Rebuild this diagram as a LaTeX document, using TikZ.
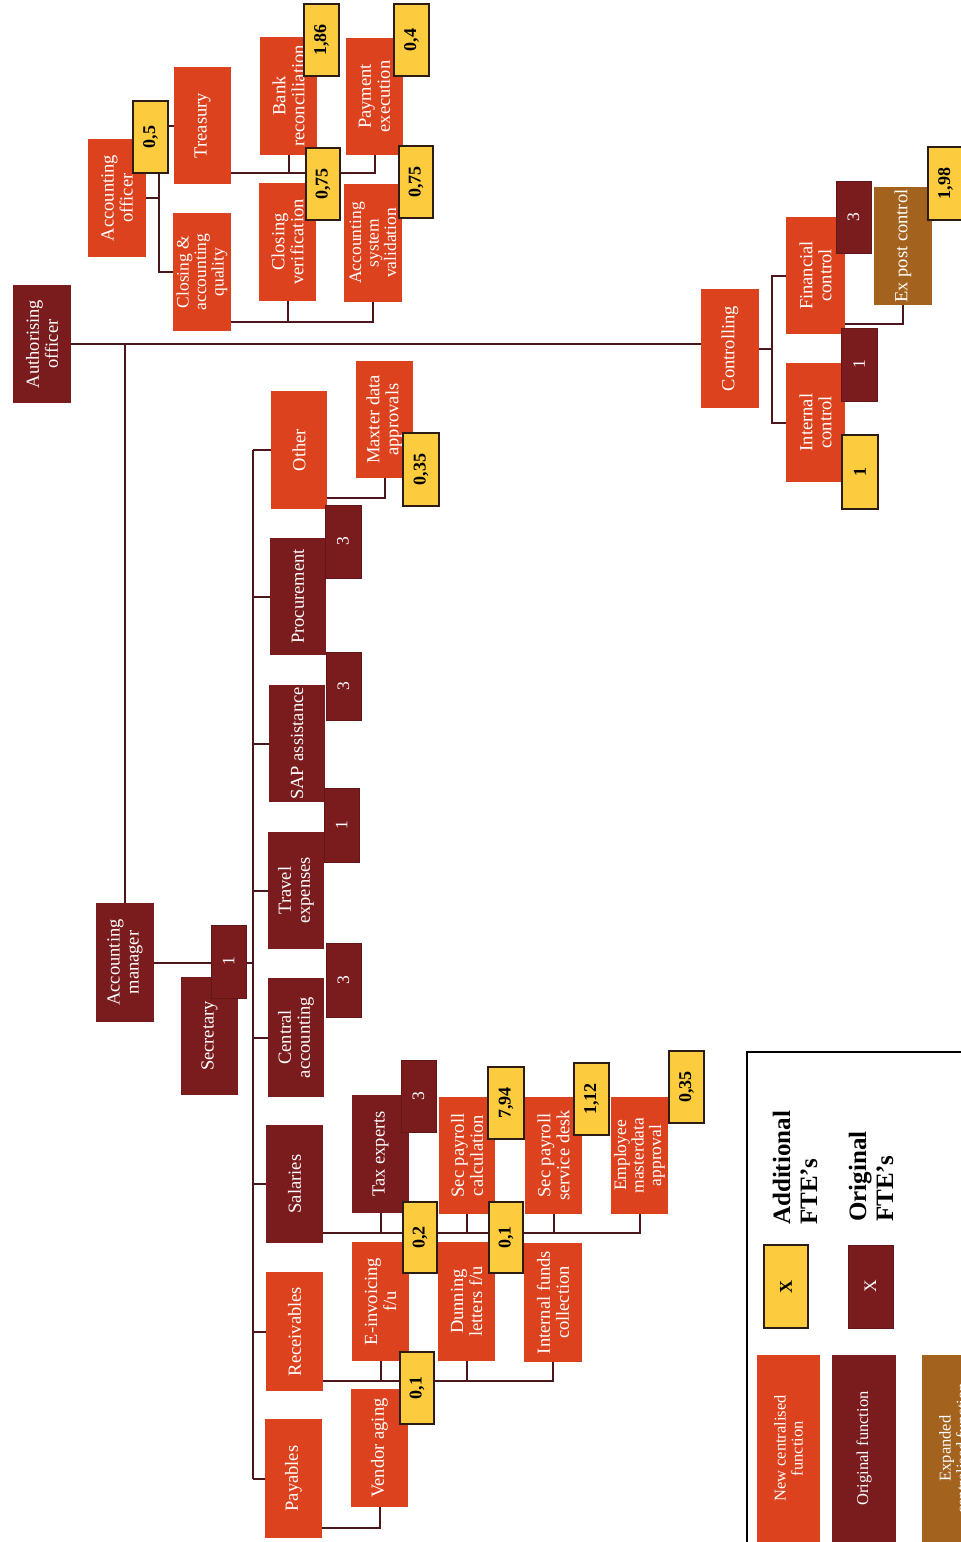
\documentclass[tikz,border=0pt]{standalone}
\usepackage{fontspec}
\setmainfont{Liberation Serif}
\definecolor{orng}{RGB}{221,66,30}
\definecolor{dred}{RGB}{122,28,30}
\definecolor{ylw}{RGB}{252,204,62}
\definecolor{brwn}{RGB}{163,99,30}
\definecolor{lnc}{RGB}{75,22,28}
\definecolor{bdr}{RGB}{45,28,22}
\tikzset{
 base/.style={rotate=90, inner sep=0pt, outer sep=0pt, align=center, text=white, font=\fontsize{18.5}{19}\selectfont},
 ob/.style={base, fill=orng},
 db/.style={base, fill=dred},
 bb/.style={base, fill=brwn},
 small/.style={font=\fontsize{17.5}{17.5}\selectfont},
 yb/.style={rotate=90, inner sep=0pt, outer sep=0pt, fill=ylw, draw=bdr, line width=1.6pt, text=black, font=\bfseries\fontsize{18}{18}\selectfont},
 rb/.style={rotate=90, inner sep=0pt, outer sep=0pt, fill=dred, draw=dred!80!black, line width=0.6pt, text=white, font=\fontsize{17.5}{17.5}\selectfont},
 conn/.style={draw=lnc, line width=2pt},
 legtxt/.style={rotate=90, anchor=west, align=left, inner sep=0pt, text=black, font=\bfseries\fontsize{25}{27}\selectfont},
 legbox/.style={font=\fontsize{16.5}{17}\selectfont},
}
\newcommand\bx[7]{\node[#2, minimum width={#6-#4}, minimum height={#5-#3}] (#1) at ({(#3+#5)/2},{(#4+#6)/2}) {#7};}
\begin{document}
\begin{tikzpicture}[x=1pt,y=-1pt]
\useasboundingbox (0,0) rectangle (961,1542);
\clip (0,0) rectangle (961,1542);
\fill[white] (0,0) rectangle (961,1542);
% ---- boxes
\bx{ao}{db}{13}{285}{71}{403}{Authorising\\officer}
\bx{acco}{ob}{88}{139}{146}{257}{Accounting\\officer}
\bx{treas}{ob}{174}{67}{231}{184}{Treasury}
\bx{cqual}{ob,small}{173}{213}{231}{331}{Closing \&\\accounting\\quality}
\bx{bank}{ob}{260}{37}{317}{155}{Bank\\reconciliation}
\bx{pay}{ob}{346}{38}{403}{155}{Payment\\execution}
\bx{cver}{ob}{259}{183}{316}{301}{Closing\\verification}
\bx{asv}{ob,small}{344}{184}{402}{302}{Accounting\\system\\validation}
\bx{ctrl}{ob}{701}{289}{759}{408}{Controlling}
\bx{finc}{ob}{786}{217}{845}{334}{Financial\\control}
\bx{intc}{ob}{786}{363}{845}{482}{Internal\\control}
\bx{expost}{bb}{874}{187}{932}{305}{Ex post control}
\bx{other}{ob}{271}{391}{327}{509}{Other}
\bx{maxter}{ob}{356}{361}{413}{478}{Maxter data\\approvals}
\bx{proc}{db}{270}{538}{326}{655}{Procurement}
\bx{sap}{db}{269}{685}{325}{802}{SAP assistance}
\bx{trav}{db}{268}{832}{324}{949}{Travel\\expenses}
\bx{cent}{db}{268}{978}{324}{1097}{Central\\accounting}
\bx{am}{db}{96}{903}{154}{1022}{Accounting\\manager}
\bx{secr}{db}{181}{977}{238}{1095}{Secretary}
\bx{sal}{db}{266}{1125}{323}{1243}{Salaries}
\bx{rec}{ob}{266}{1272}{323}{1391}{Receivables}
\bx{pay2}{ob}{265}{1419}{322}{1538}{Payables}
\bx{tax}{db}{352}{1095}{409}{1213}{Tax experts}
\bx{spc}{ob}{439}{1097}{495}{1214}{Sec payroll\\calculation}
\bx{spsd}{ob}{525}{1097}{582}{1214}{Sec payroll\\service desk}
\bx{ema}{ob,small}{611}{1097}{668}{1214}{Employee\\masterdata\\approval}
\bx{einv}{ob}{352}{1242}{409}{1361}{E-invoicing\\f/u}
\bx{dun}{ob}{438}{1242}{495}{1361}{Dunning\\letters f/u}
\bx{ifc}{ob}{524}{1243}{582}{1362}{Internal funds\\collection}
\bx{vend}{ob}{351}{1389}{408}{1507}{Vendor aging}
% ---- connectors
\draw[conn] (ao.south) -- (ao.south -| ctrl.north);
\draw[conn] (am.east) -- (am.east |- ao.south);
\draw[conn] (am.south) -- (am.south -| 253,0);
\draw[conn] (253,0 |- other.north) -- (253,0 |- pay2.north);
\foreach \n in {other,proc,sap,trav,cent,sal,rec,pay2}
  \draw[conn] (\n.north) -- (\n.north -| 253,0);
\draw[conn] (acco.south) -- (acco.south -| 159,0);
\draw[conn] (treas.north) -- (treas.north -| 159,0) -- (cqual.north -| 159,0) -- (cqual.north);
\draw[conn] (treas.south |- 0,173) -| (pay.west);
\draw[conn] (bank.west) -- (bank.west |- 0,173);
\draw[conn] (cqual.south |- 0,322) -| (asv.west);
\draw[conn] (cver.west) -- (cver.west |- 0,322);
\draw[conn] (ctrl.south) -- (ctrl.south -| 772,0);
\draw[conn] (finc.north) -- (finc.north -| 772,0) -- (intc.north -| 772,0) -- (intc.north);
\draw[conn] (finc.south |- 0,324) -| (expost.west);
\draw[conn] (other.south |- 0,498) -| (maxter.west);
\draw[conn] (sal.south |- 0,1233) -| (ema.west);
\foreach \n in {tax,spc,spsd}
  \draw[conn] (\n.west) -- (\n.west |- 0,1233);
\draw[conn] (rec.south |- 0,1381) -| (ifc.west);
\foreach \n in {einv,dun}
  \draw[conn] (\n.west) -- (\n.west |- 0,1381);
\draw[conn] (pay2.south |- 0,1528) -| (vend.west);
% ---- FTE badges
\bx{b05}{yb}{133}{101}{168}{173}{0,5}
\bx{b186}{yb}{304}{4}{339}{76}{1,86}
\bx{b04}{yb}{394}{4}{429}{76}{0,4}
\bx{b075a}{yb}{306}{148}{340}{220}{0,75}
\bx{b075b}{yb}{399}{146}{433}{218}{0,75}
\bx{bfc}{rb}{836}{181}{871}{253}{3}
\bx{bicd}{rb}{841}{328}{877}{401}{1}
\bx{bicy}{yb}{842}{435}{878}{509}{1}
\bx{b198}{yb}{928}{147}{963}{220}{1,98}
\bx{b035a}{yb}{403}{433}{439}{506}{0,35}
\bx{bproc}{rb}{325}{505}{361}{578}{3}
\bx{bsap}{rb}{326}{652}{361}{720}{3}
\bx{btrav}{rb}{324}{788}{359}{862}{1}
\bx{bcent}{rb}{326}{943}{361}{1017}{3}
\bx{bsecr}{rb}{211}{925}{246}{998}{1}
\bx{btax}{rb}{401}{1060}{436}{1132}{3}
\bx{b794}{yb}{488}{1067}{524}{1139}{7,94}
\bx{b112}{yb}{574}{1063}{609}{1135}{1,12}
\bx{b035b}{yb}{669}{1051}{704}{1123}{0,35}
\bx{b02}{yb}{403}{1202}{437}{1273}{0,2}
\bx{b01b}{yb}{489}{1202}{523}{1273}{0,1}
\bx{b01a}{yb}{400}{1352}{434}{1424}{0,1}
% ---- legend
\draw[line width=1.8pt, black] (747,1052) rectangle (1000,1600);
\bx{lgy}{yb}{764}{1245}{808}{1328}{X}
\bx{lgd}{rb}{848}{1245}{893}{1328}{X}
\node[legtxt] (ladd) at (795,1225) {Additional\\FTE’s};
\node[legtxt] (lorig) at (871,1222) {Original\\FTE’s};
\bx{lnew}{ob,legbox}{757}{1355}{820}{1542}{New centralised\\function}
\bx{lorg}{db,legbox}{832}{1355}{896}{1542}{Original function}
\bx{lexp}{bb,legbox}{922}{1355}{985}{1542}{Expanded\\centralised function}
\end{tikzpicture}
\end{document}
